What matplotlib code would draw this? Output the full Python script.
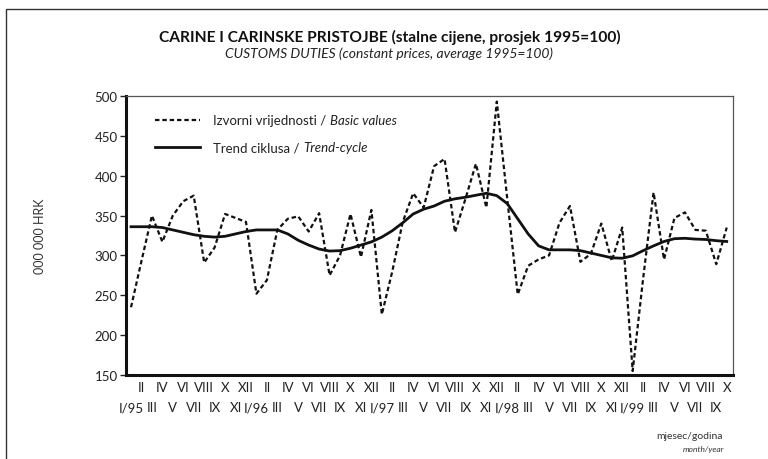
import matplotlib
matplotlib.use("Agg")
import matplotlib.pyplot as plt
from matplotlib.patches import Rectangle

plt.rcParams['font.family'] = ['Lato', 'DejaVu Sans']

# ---- data ----
month_labels = ["I/95", "II", "III", "IV", "V", "VI", "VII", "VIII", "IX", "X", "XI", "XII",
                "I/96", "II", "III", "IV", "V", "VI", "VII", "VIII", "IX", "X", "XI", "XII",
                "I/97", "II", "III", "IV", "V", "VI", "VII", "VIII", "IX", "X", "XI", "XII",
                "I/98", "II", "III", "IV", "V", "VI", "VII", "VIII", "IX", "X", "XI", "XII",
                "I/99", "II", "III", "IV", "V", "VI", "VII", "VIII", "IX", "X"]

basic_values = [235, 293, 350, 317, 350, 368, 375, 291, 310, 352, 347, 342,
                252, 269, 332, 346, 349, 330, 353, 275, 300, 352, 298, 357,
                226, 280, 342, 378, 360, 412, 421, 329, 371, 415, 360, 493,
                371, 251, 287, 295, 300, 341, 362, 292, 302, 340, 293, 335,
                155, 271, 379, 295, 347, 354, 332, 331, 289, 335]

trend_cycle = [336, 336, 336, 335, 332, 329, 326, 324, 323, 324, 327, 330,
               332, 332, 332, 327, 319, 313, 308, 305.5, 306, 309, 313, 317,
               323, 331, 341, 352, 358, 362, 368, 371, 373, 375.5, 378, 375,
               365, 346, 327, 312, 307, 307, 307, 306, 303, 300, 297, 296.5,
               299.5, 306, 312, 317.5, 321, 321.5, 320.5, 320, 318.5, 317.5]

y_ticks = [150, 200, 250, 300, 350, 400, 450, 500]

title_hr = "CARINE I CARINSKE PRISTOJBE (stalne cijene, prosjek 1995=100)"
title_en = "CUSTOMS DUTIES (constant prices, average 1995=100)"
legend_hr = ["Izvorni vrijednosti / ", "Trend ciklusa / "]
legend_en = ["Basic values", "Trend-cycle"]

# ---- figure ----
W, H = 768, 460
fig = plt.figure(figsize=(W / 100, H / 100), dpi=100)

# outer frame (only left/top visible in reference)
fig.patches.append(Rectangle((6 / W, -0.1), 1.2, 1 - 10 / H + 0.1, transform=fig.transFigure,
                             fill=False, edgecolor='#333333', linewidth=1.0))

ax = fig.add_axes([126 / W, 1 - 376 / H, (733 - 126) / W, (376 - 97) / H])

x = list(range(len(basic_values)))
ax.plot(x, basic_values, color='#111111', linewidth=1.6, linestyle=(0, (2.0, 1.3)),
        label=legend_hr[0])
ax.plot(x, trend_cycle, color='#111111', linewidth=2.0, linestyle='-',
        label=legend_hr[1])

ax.set_xlim(-0.48, 57.6)
ax.set_ylim(150, 500)
ax.set_yticks(y_ticks)
ax.set_yticklabels([str(v) for v in y_ticks], fontsize=9.5, color='#222222')
ax.tick_params(axis='y', direction='out', length=4, width=1, pad=2, colors='#222222')

even = [i for i in x if i % 2 == 0]
odd = [i for i in x if i % 2 == 1]
ax.set_xticks(even)
ax.set_xticklabels([month_labels[i] for i in even], fontsize=9.5, color='#222222')
ax.set_xticks(odd, minor=True)
ax.set_xticklabels([month_labels[i] for i in odd], minor=True, fontsize=9.5, color='#222222')
ax.tick_params(axis='x', which='major', length=0, pad=19)
ax.tick_params(axis='x', which='minor', length=0, pad=4)

for s in ['left', 'bottom']:
    ax.spines[s].set_linewidth(2.2)
    ax.spines[s].set_color('#111111')
for s in ['top', 'right']:
    ax.spines[s].set_linewidth(0.9)
    ax.spines[s].set_color('#555555')

leg = ax.legend(loc='upper left', bbox_to_anchor=(0.048, 0.935), frameon=False,
                fontsize=9.5, handlelength=3.4, handletextpad=1.0, labelspacing=1.15,
                borderpad=0, borderaxespad=0)
for t in leg.get_texts():
    t.set_color('#222222')

fig.text(390 / W, 1 - 37 / H, title_hr, ha='center', va='center', fontsize=11.2,
         fontweight='bold', color='#111111')
fig.text(389 / W, 1 - 54 / H, title_en, ha='center', va='center', fontsize=10,
         style='italic', color='#222222')
fig.text(40 / W, 1 - 236 / H, "000 000 HRK", ha='center', va='center', rotation=90,
         fontsize=9, color='#333333')
fig.text(723 / W, 1 - 437 / H, "mjesec/godina", ha='right', va='center', fontsize=7.5,
         color='#333333')
fig.text(724 / W, 1 - 450 / H, "month/year", ha='right', va='center', fontsize=6,
         style='italic', color='#333333')

# italic English part appended after legend labels
fig.canvas.draw()
renderer = fig.canvas.get_renderer()
for t, en in zip(leg.get_texts(), legend_en):
    bb = t.get_window_extent(renderer)
    fig.text(bb.x1 / W, (bb.y0 + bb.y1) / 2 / H, en, ha='left', va='center',
             fontsize=9.5, style='italic', color='#222222')

fig.savefig("out.png", dpi=100)
